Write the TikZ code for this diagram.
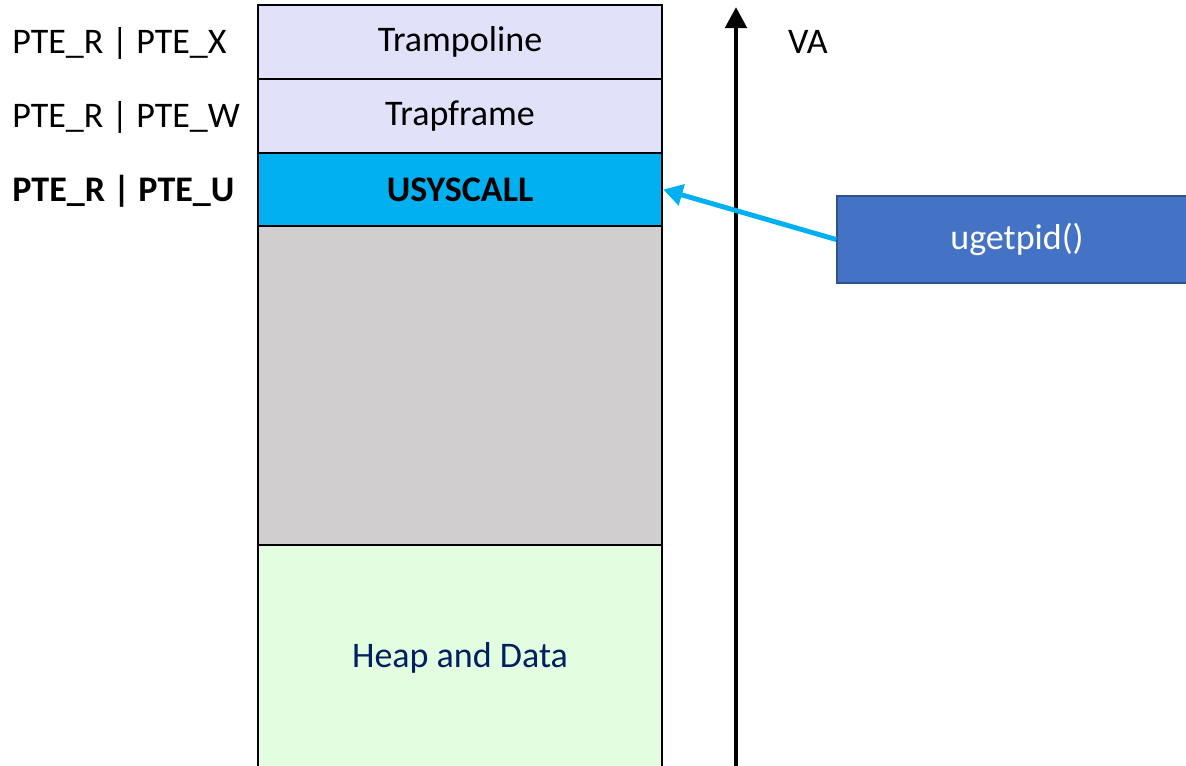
\documentclass[tikz,border=0pt]{standalone}
\usepackage{fontspec}
\setmainfont{Carlito}
\usetikzlibrary{arrows.meta}
\definecolor{tramp}{HTML}{E1E1FA}
\definecolor{usys}{HTML}{00B0F0}
\definecolor{freegray}{HTML}{D0CECE}
\definecolor{heap}{HTML}{E2FDE0}
\definecolor{heaptext}{HTML}{002060}
\definecolor{callfill}{HTML}{4472C4}
\definecolor{calledge}{HTML}{2F528F}
\tikzset{
    region/.style={draw=black,line width=1.4pt,minimum width=8.08cm,inner sep=0pt},
    perm/.style={anchor=west,inner sep=0pt},
    axisarrow/.style={line width=2.8pt,-{Triangle[width=12pt,length=12pt]}},
    callarrow/.style={usys,line width=2.8pt,-{Triangle[width=12pt,length=11pt]}},
}
\begin{document}
\begin{tikzpicture}[x=0.02cm,y=-0.02cm,font=\fontsize{20.5pt}{24pt}\selectfont]
    \useasboundingbox (0,0) rectangle (1186,765);
    \clip (0,0) rectangle (1186,765);
    % memory layout
    \node[region,fill=tramp,minimum height=1.48cm] (tramp) at (460,42) {Trampoline};
    \node[region,fill=tramp,minimum height=1.48cm] (trapframe) at (460,116) {Trapframe};
    \node[region,fill=usys,minimum height=1.46cm,font=\fontsize{20.5pt}{24pt}\selectfont\bfseries] (usyscall) at (460,189.5) {USYSCALL};
    \node[region,fill=freegray,minimum height=6.38cm] (unused) at (460,385.5) {};
    \node[region,fill=heap,minimum height=4.52cm,text=heaptext] (heapdata) at (460,658) {Heap and Data};
    % permissions
    \node[perm] (permx) at (12,43) {PTE\_R | PTE\_X};
    \node[perm] (permw) at (12,117) {PTE\_R | PTE\_W};
    \node[perm,font=\fontsize{20.5pt}{24pt}\selectfont\bfseries] (permu) at (12,191) {PTE\_R | PTE\_U};
    % address axis
    \coordinate (vabot) at (736,770);
    \coordinate (vatop) at (736,7);
    \draw[axisarrow] (vabot) -- (vatop);
    \node (va) at (808,42) {VA};
    % syscall
    \node[draw=calledge,line width=0.9pt,fill=callfill,text=white,minimum width=7.2cm,minimum height=1.74cm] (ugetpid) at (1017,239.5) {ugetpid()};
    \draw[callarrow] (ugetpid.west) -- (usyscall.east);
\end{tikzpicture}
\end{document}
